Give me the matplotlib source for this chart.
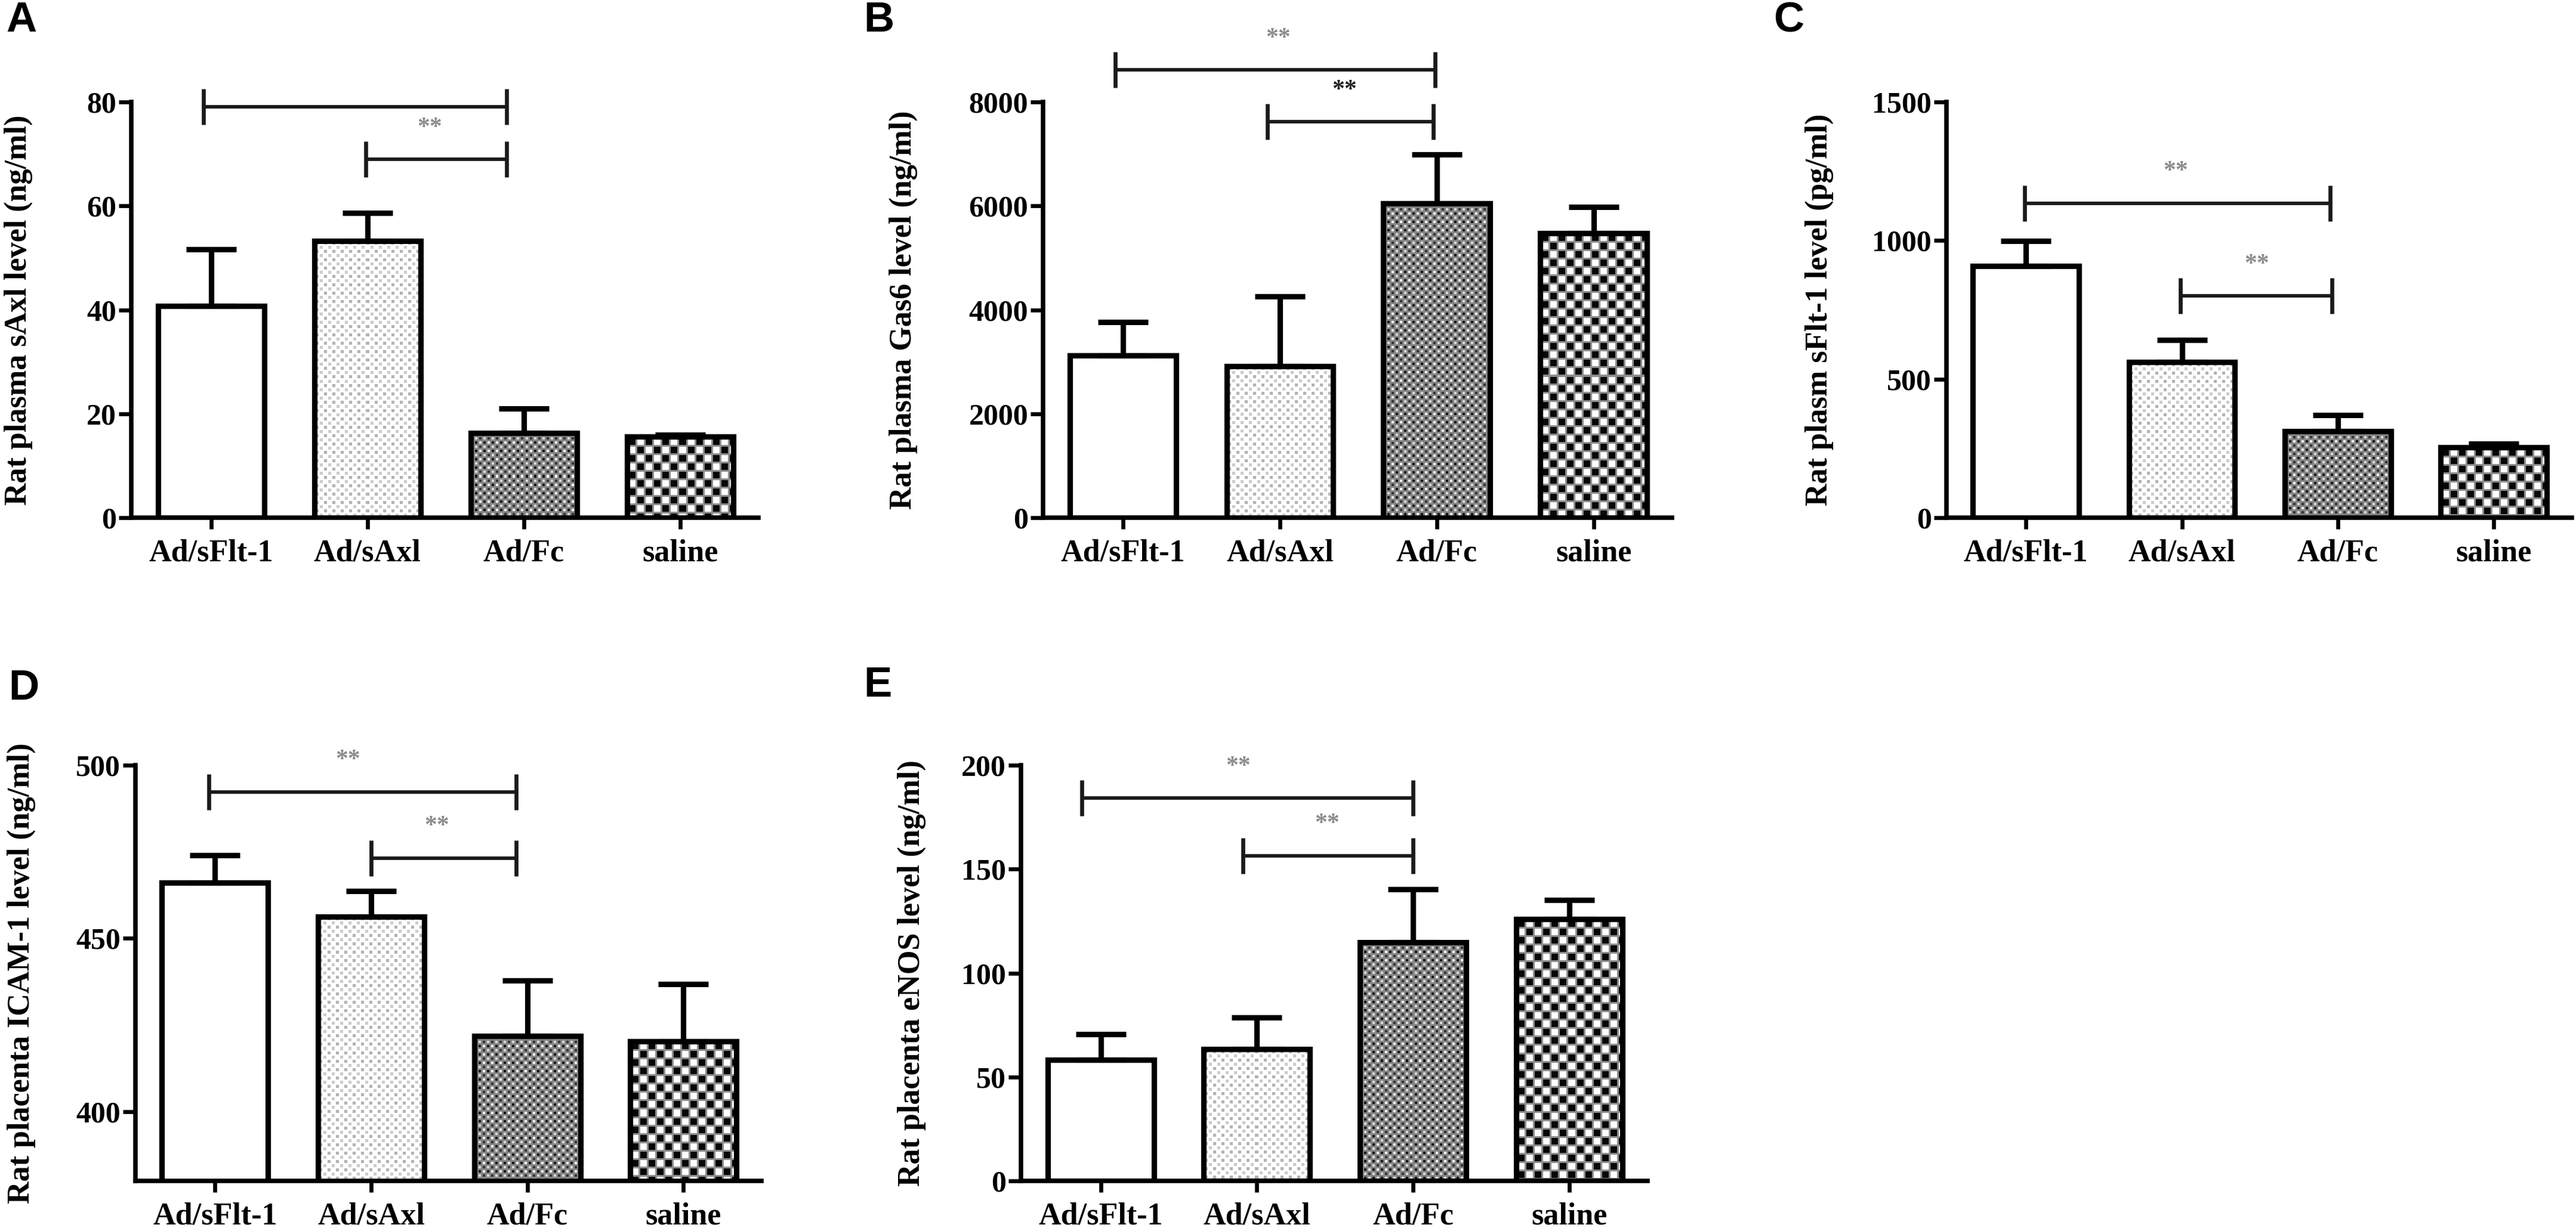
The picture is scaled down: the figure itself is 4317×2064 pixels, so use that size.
import numpy as np
import matplotlib
matplotlib.use("Agg")
import matplotlib.pyplot as plt

# ---------------- data ----------------
groups = ["Ad/sFlt-1", "Ad/sAxl", "Ad/Fc", "saline"]

a_vals = [40.7, 53.3, 16.3, 15.6]
a_err = [10.9, 5.3, 4.7, 0.3]
b_vals = [3120, 2920, 6045, 5475]
b_err = [645, 1335, 950, 510]
c_vals = [909, 561, 312, 253]
c_err = [89, 80, 58, 14]
d_vals = [466.0, 456.3, 421.8, 420.3]
d_err = [8.0, 7.3, 16.1, 16.5]
e_vals = [58.2, 63.4, 114.9, 126.0]
e_err = [12.4, 15.2, 25.4, 9.1]

a_ylabel = "Rat plasma sAxl level (ng/ml)"
b_ylabel = "Rat plasma Gas6 level (ng/ml)"
c_ylabel = "Rat plasm sFlt-1 level (pg/ml)"
d_ylabel = "Rat placenta ICAM-1 level (ng/ml)"
e_ylabel = "Rat placenta eNOS level (ng/ml)"

a_ticks = [0, 20, 40, 60, 80]
b_ticks = [0, 2000, 4000, 6000, 8000]
c_ticks = [0, 500, 1000, 1500]
d_ticks = [400, 450, 500]
e_ticks = [0, 50, 100, 150, 200]

a_ylim = (0, 80)
b_ylim = (0, 8000)
c_ylim = (0, 1500)
d_ylim = (380, 500)
e_ylim = (0, 200)

# significance brackets: (x start, x end), level, stars label, star x, star colour
a_brackets = [((-0.05, 1.89), 79.1, "", 0.0, "#8c8c8c"),
              ((0.99, 1.89), 69.0, "**", 1.40, "#8c8c8c")]
b_brackets = [((-0.05, 1.99), 8618, "**", 0.99, "#8c8c8c"),
              ((0.92, 1.98), 7617, "**", 1.41, "#222222")]
c_brackets = [((-0.01, 1.95), 1135, "**", 0.96, "#8c8c8c"),
              ((0.99, 1.96), 800, "**", 1.48, "#8c8c8c")]
d_brackets = [((-0.04, 1.93), 492.3, "**", 0.85, "#8c8c8c"),
              ((1.00, 1.93), 473.2, "**", 1.42, "#8c8c8c")]
e_brackets = [((-0.12, 2.00), 184.2, "**", 0.88, "#8c8c8c"),
              ((0.91, 2.00), 156.5, "**", 1.45, "#8c8c8c")]

# ---------------- style ----------------
W, H = 4317, 2064
DPI = 300
SERIF = ["Liberation Serif", "DejaVu Serif"]
plt.rcParams["font.family"] = SERIF
plt.rcParams["font.weight"] = "bold"

fig = plt.figure(figsize=(W / DPI, H / DPI), dpi=DPI)

TOP_B, TOP_H = 1 - 868 / H, (868 - 171) / H
BOT_B, BOT_H = 1 - 1980 / H, (1980 - 1283) / H

panels = [
    dict(letter="A", rect=(220 / W, TOP_B, 1051 / W, TOP_H), vals=a_vals, err=a_err,
         ylabel=a_ylabel, ticks=a_ticks, ylim=a_ylim, br=a_brackets, lab_x=-0.157,
         let_xy=(10, 35)),
    dict(letter="B", rect=(1748 / W, TOP_B, 1054 / W, TOP_H), vals=b_vals, err=b_err,
         ylabel=b_ylabel, ticks=b_ticks, ylim=b_ylim, br=b_brackets, lab_x=-0.199,
         let_xy=(1447, 35)),
    dict(letter="C", rect=(3262 / W, TOP_B, 1048 / W, TOP_H), vals=c_vals, err=c_err,
         ylabel=c_ylabel, ticks=c_ticks, ylim=c_ylim, br=c_brackets, lab_x=-0.180,
         let_xy=(2972, 35)),
    dict(letter="D", rect=(227 / W, BOT_B, 1049 / W, BOT_H), vals=d_vals, err=d_err,
         ylabel=d_ylabel, ticks=d_ticks, ylim=d_ylim, br=d_brackets, lab_x=-0.159,
         let_xy=(14, 1155)),
    dict(letter="E", rect=(1711 / W, BOT_B, 1050 / W, BOT_H), vals=e_vals, err=e_err,
         ylabel=e_ylabel, ticks=e_ticks, ylim=e_ylim, br=e_brackets, lab_x=-0.151,
         let_xy=(1447, 1150)),
]


def tex_sAxl(h, w):
    r, c = np.mgrid[0:h, 0:w]
    img = np.ones((h, w))
    rr, cc = r % 14, c % 14
    m1 = (rr >= 2) & (rr < 7) & (cc >= 2) & (cc < 7)
    m2 = (rr >= 9) & (rr < 14) & (cc >= 9) & (cc < 14)
    img[m1] = 0.70
    img[m2] = 0.80
    return img


def tex_Fc(h, w):
    r, c = np.mgrid[0:h, 0:w]
    img = np.full((h, w), 0.52)
    rr, cc = r % 14, c % 14
    row1 = (rr >= 1) & (rr < 5)
    row2 = (rr >= 8) & (rr < 12)
    img[row1 & (cc >= 0) & (cc < 4)] = 1.0
    img[row1 & (cc >= 7) & (cc < 11)] = 0.08
    img[row2 & (cc >= 7) & (cc < 11)] = 0.85
    img[row2 & (cc >= 0) & (cc < 4)] = 0.20
    return img


def tex_saline(h, w):
    r, c = np.mgrid[0:h, 0:w]
    img = np.full((h, w), 0.55)
    rr, cc = r % 14, c % 14
    inner = (rr >= 3) & (cc >= 3)
    chk = ((r // 14) + (c // 14)) % 2 == 0
    img[inner & chk] = 0.03
    img[inner & ~chk] = 1.0
    return img


textures = [None, tex_sAxl, tex_Fc, tex_saline]

x = np.arange(len(groups))

for p in panels:
    ax = fig.add_axes(p["rect"])
    ax.set_xlim(-0.51, 3.5)
    ax.set_ylim(*p["ylim"])
    for s in ["top", "right"]:
        ax.spines[s].set_visible(False)
    for s in ["left", "bottom"]:
        ax.spines[s].set_linewidth(1.8)

    bars = ax.bar(x, p["vals"], width=0.68, facecolor="none", edgecolor="black",
                  linewidth=2.2, zorder=3)
    # white fill underneath
    ax.bar(x, p["vals"], width=0.68, facecolor="white", edgecolor="none",
           linewidth=0, zorder=1.5)

    for rect, tex in zip(bars.patches, textures):
        if tex is None:
            continue
        x0, x1 = rect.get_x(), rect.get_x() + rect.get_width()
        y0 = max(rect.get_y(), p["ylim"][0])
        y1 = rect.get_y() + rect.get_height()
        (px0, py0) = ax.transData.transform((x0, y0))
        (px1, py1) = ax.transData.transform((x1, y1))
        wpx = max(int(round(px1 - px0)), 1)
        hpx = max(int(round(py1 - py0)), 1)
        img = tex(hpx, wpx)
        im = ax.imshow(img, cmap="gray", vmin=0, vmax=1, extent=(x0, x1, y0, y1),
                       interpolation="nearest", aspect="auto", zorder=2,
                       origin="upper")
        im.set_clip_path(rect)
    ax.set_xlim(-0.51, 3.5)
    ax.set_ylim(*p["ylim"])

    ax.errorbar(x, p["vals"], yerr=[np.zeros(len(x)), p["err"]], fmt="none",
                ecolor="black", elinewidth=2.2, capsize=10, capthick=2.2, zorder=2.5)

    span = p["ylim"][1] - p["ylim"][0]
    tick_h = 0.043 * span
    for (xa, xb), lvl, lab, sx, col in p["br"]:
        ax.plot([xa, xb], [lvl, lvl], color="#1a1a1a", lw=1.4, clip_on=False,
                solid_capstyle="butt", zorder=4)
        for xx in (xa, xb):
            ax.plot([xx, xx], [lvl - tick_h, lvl + tick_h], color="#1a1a1a",
                    lw=1.6, clip_on=False, solid_capstyle="butt", zorder=4)
        if lab:
            ax.text(sx, lvl + 0.075 * span, lab, ha="center", va="center",
                    fontsize=10, color=col, fontweight="bold", clip_on=False)

    ax.set_yticks(p["ticks"])
    ax.set_yticklabels([str(t) for t in p["ticks"]], fontsize=12, fontweight="bold")
    ax.set_xticks(x)
    ax.set_xticklabels(groups, fontsize=12.5, fontweight="bold")
    ax.tick_params(axis="y", length=5, width=1.6, pad=1)
    ax.tick_params(axis="x", length=4.6, width=1.6, pad=4)
    ax.set_ylabel(p["ylabel"], fontsize=12.5, fontweight="bold")
    ax.yaxis.set_label_coords(p["lab_x"], 0.5)

    lx, ly = p["let_xy"]
    fig.text(lx / W, 1 - ly / H, p["letter"], fontsize=17, fontweight="bold",
             family=["Liberation Sans", "DejaVu Sans"], ha="left", va="center")

fig.savefig("out.png", dpi=DPI)
